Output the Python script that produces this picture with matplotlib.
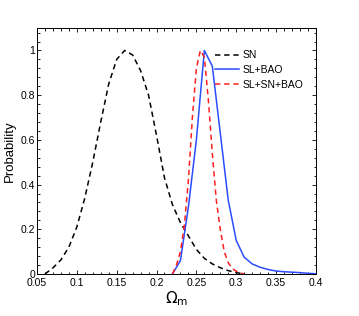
import matplotlib
matplotlib.use("Agg")
import matplotlib.pyplot as plt
from matplotlib.ticker import MultipleLocator, FuncFormatter

plt.rcParams['font.family'] = ['Liberation Sans', 'DejaVu Sans']

# SN
om_sn = [0.06, 0.07, 0.08, 0.09, 0.10, 0.11, 0.12, 0.13, 0.14, 0.15, 0.16,
         0.17, 0.18, 0.19, 0.20, 0.21, 0.22, 0.23, 0.24, 0.25, 0.26, 0.27,
         0.28, 0.29, 0.30, 0.31]
p_sn = [0.0, 0.027, 0.063, 0.12, 0.21, 0.34, 0.50, 0.68, 0.85, 0.96, 1.0,
        0.98, 0.91, 0.80, 0.62, 0.43, 0.31, 0.23, 0.17, 0.11, 0.07, 0.045,
        0.028, 0.015, 0.006, 0.0]

# SL+BAO
om_slbao = [0.22, 0.23, 0.24, 0.25, 0.26, 0.27, 0.28, 0.29, 0.30, 0.31, 0.32,
            0.33, 0.34, 0.35, 0.36, 0.37, 0.38, 0.39, 0.40]
p_slbao = [0.0, 0.06, 0.30, 0.60, 1.0, 0.93, 0.63, 0.33, 0.15, 0.075, 0.045,
           0.03, 0.02, 0.013, 0.01, 0.008, 0.006, 0.003, 0.001]

# SL+SN+BAO
om_all = [0.220, 0.225, 0.230, 0.235, 0.240, 0.245, 0.250, 0.255, 0.260,
          0.265, 0.270, 0.275, 0.280, 0.285, 0.290, 0.295, 0.300, 0.305, 0.310]
p_all = [0.0, 0.04, 0.10, 0.22, 0.42, 0.70, 0.92, 1.0, 0.97, 0.78, 0.54,
         0.33, 0.20, 0.10, 0.05, 0.025, 0.012, 0.004, 0.0]

fig = plt.figure(figsize=(3.59, 3.16), dpi=100)
ax = fig.add_axes([0.103, 0.133, 0.777, 0.778])

dash = (0, (3.5, 2.5))
ax.plot(om_sn, p_sn, color='black', ls=dash, lw=1.1, label='SN')
ax.plot(om_slbao, p_slbao, color='#2b4cff', ls='-', lw=1.1, label='SL+BAO')
ax.plot(om_all, p_all, color='#ff2020', ls=dash, lw=1.1, label='SL+SN+BAO')

ax.set_xlim(0.05, 0.4)
ax.set_ylim(0, 1.1)
ax.xaxis.set_major_locator(MultipleLocator(0.05))
ax.xaxis.set_minor_locator(MultipleLocator(0.01))
ax.yaxis.set_major_locator(MultipleLocator(0.2))
ax.yaxis.set_minor_locator(MultipleLocator(0.04))
fmt = FuncFormatter(lambda v, p: '%g' % round(v, 3))
ax.xaxis.set_major_formatter(fmt)
ax.yaxis.set_major_formatter(fmt)
ax.tick_params(which='both', direction='in', top=True, right=True,
               labelsize=7.5, width=0.6)
ax.tick_params(axis='x', pad=3)
ax.tick_params(axis='y', pad=1.5)
ax.tick_params(which='major', length=3)
ax.tick_params(which='minor', length=1.8)
for s in ax.spines.values():
    s.set_linewidth(0.7)

ax.set_xlabel(r'$\Omega_{\rm m}$', fontsize=11, labelpad=1)
ax.set_ylabel('Probability', fontsize=9.5, labelpad=3)

ax.legend(loc='upper right', frameon=False, fontsize=7.5, handlelength=2.3,
          handletextpad=0.3, labelspacing=0.45, borderaxespad=0.3,
          bbox_to_anchor=(0.98, 0.94))

fig.savefig('out.png', dpi=100)
